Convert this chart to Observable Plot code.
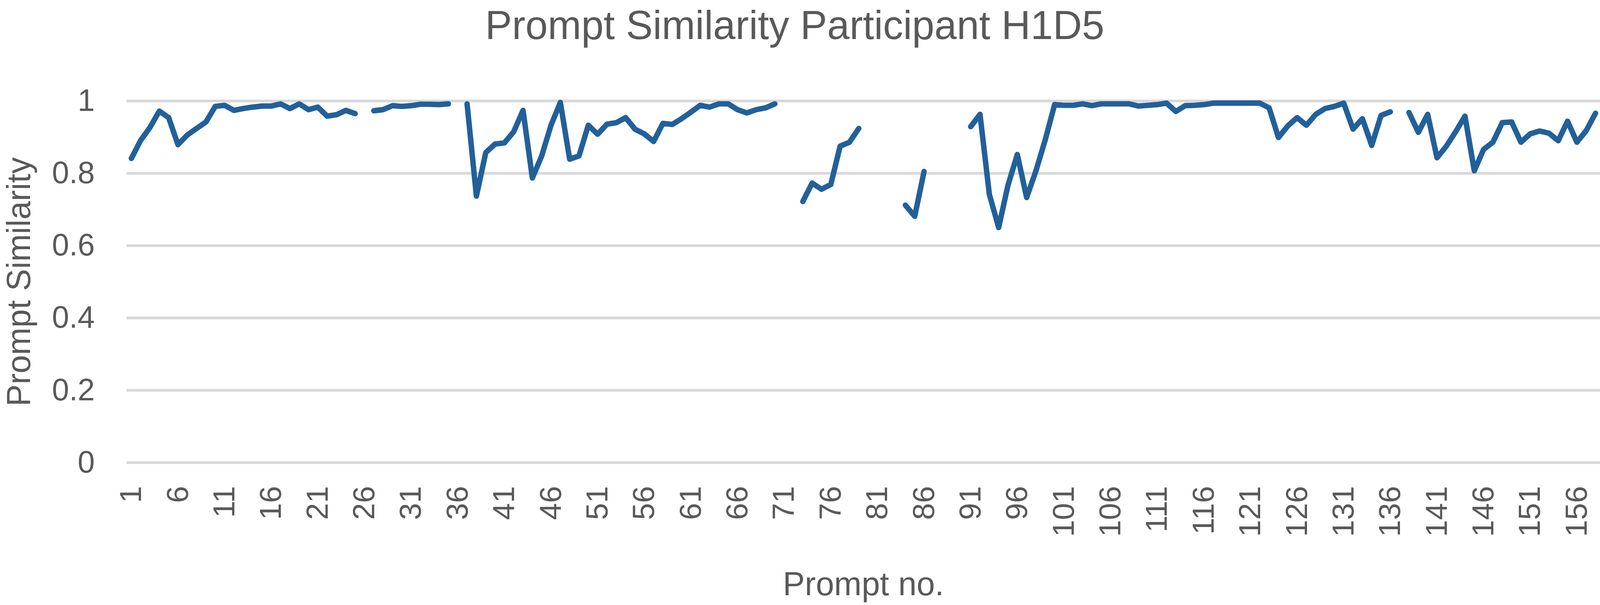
<!DOCTYPE html>
<html>
<head>
<meta charset="utf-8">
<script src="https://cdn.jsdelivr.net/npm/d3@7"></script>
<script src="https://cdn.jsdelivr.net/npm/@observablehq/plot@0.6"></script>
<style>
html, body { margin: 0; padding: 0; background: #fff; overflow: hidden; }
#chart { overflow: hidden; font-family: "Liberation Sans", Arial, sans-serif; background: #fff; }
#title { color: #595959; text-align: center; white-space: nowrap; overflow: visible; }
#chart svg { display: block; }
</style>
</head>
<body>
<div id="chart"><div id="title"></div></div>
<script>
const chartTitle = "Prompt Similarity Participant H1D5";
const xTitle = "Prompt no.";
const yTitle = "Prompt Similarity";

// Prompt numbers (categories) 1..158
const prompts = d3.range(1, 159);

// Prompt similarity per prompt (null = no value, line gap)
const similarity = [
  0.841, 0.891, 0.927, 0.972, 0.954, 0.879, 0.906, 0.924, 0.942, 0.985,
  0.988, 0.974, 0.979, 0.983, 0.986, 0.986, 0.992, 0.979, 0.992, 0.976,
  0.983, 0.958, 0.962, 0.974, 0.965, null, 0.973, 0.976, 0.987, 0.985,
  0.987, 0.991, 0.991, 0.990, 0.992, null, 0.992, 0.737, 0.857, 0.881,
  0.884, 0.915, 0.974, 0.787, 0.848, 0.933, 0.996, 0.839, 0.848, 0.933,
  0.908, 0.936, 0.940, 0.954, 0.922, 0.909, 0.888, 0.938, 0.935, 0.951,
  0.969, 0.988, 0.983, 0.992, 0.992, 0.976, 0.967, 0.976, 0.981, 0.992,
  null, null, 0.722, 0.773, 0.756, 0.769, 0.875, 0.886, 0.924, null,
  null, null, null, 0.712, 0.681, 0.805, null, null, null, null,
  0.929, 0.963, 0.742, 0.650, 0.767, 0.852, 0.733, 0.807, 0.893, 0.990,
  0.988, 0.988, 0.992, 0.987, 0.992, 0.992, 0.992, 0.992, 0.986, 0.988,
  0.990, 0.994, 0.971, 0.987, 0.988, 0.990, 0.994, 0.994, 0.994, 0.994,
  0.994, 0.994, 0.981, 0.899, 0.931, 0.954, 0.933, 0.963, 0.979, 0.985,
  0.994, 0.922, 0.951, 0.877, 0.960, 0.970, null, 0.968, 0.913, 0.963,
  0.843, 0.875, 0.915, 0.958, 0.807, 0.866, 0.886, 0.940, 0.942, 0.886,
  0.909, 0.917, 0.911, 0.890, 0.944, 0.886, 0.918, 0.966
];

// Tick labels
const xTicks = [1, 6, 11, 16, 21, 26, 31, 36, 41, 46, 51, 56, 61, 66, 71, 76, 81, 86, 91, 96,
  101, 106, 111, 116, 121, 126, 131, 136, 141, 146, 151, 156];
const yTicks = [0, 0.2, 0.4, 0.6, 0.8, 1];

const rows = prompts.map((p, i) => ({prompt: p, sim: similarity[i]}));

const textColor = "#595959";
const lineColor = "#22609a";
const gridColor = "#d9d9d9";

// Layout is designed for a 4415x1549 frame; map it proportionally onto the real viewport
const W = document.documentElement.clientWidth || window.innerWidth || 4415;
const H = document.documentElement.clientHeight || window.innerHeight || 1549;
const sx = W / 4415, sy = H / 1549, fs = Math.min(sx, sy);

const holder = document.getElementById("chart");
holder.style.width = W + "px";
holder.style.height = H + "px";

const titleH = 117 * sy;
const titleF = 111 * fs;
const title = document.getElementById("title");
title.textContent = chartTitle;
title.style.height = titleH + "px";
title.style.fontSize = titleF + "px";
title.style.lineHeight = (2 * (101 * sy - 0.905 * titleF) + 1.117 * titleF) + "px";
title.style.paddingRight = (29 * sx) + "px";

const chart = Plot.plot({
  width: W,
  height: H - titleH,
  marginLeft: 349 * sx,
  marginRight: 0,
  marginTop: 141 * sy,
  marginBottom: 365 * sy,
  style: {fontFamily: "Liberation Sans, Arial, sans-serif", color: textColor, background: "white", overflow: "visible", maxWidth: "none"},
  x: {type: "linear", domain: [0.5, 158.5]},
  y: {domain: [0, 1]},
  marks: [
    Plot.ruleY(yTicks, {stroke: gridColor, strokeWidth: 7 * sy}),
    Plot.axisY(yTicks, {tickSize: 0, tickPadding: 88 * sx, fontSize: 85 * fs, fill: textColor, tickFormat: d => String(d), label: null}),
    Plot.axisX(xTicks, {tickSize: 0, tickPadding: 60 * sy, tickRotate: -90, fontSize: 84 * fs, fill: textColor, tickFormat: d => String(d), label: null}),
    Plot.line(rows, {x: "prompt", y: "sim", stroke: lineColor, strokeWidth: 15 * fs, strokeLinecap: "round", strokeLinejoin: "round"}),
    Plot.text([xTitle], {frameAnchor: "bottom", textAnchor: "middle", lineAnchor: "middle", dy: 312 * sy, fontSize: 91 * fs, fill: textColor}),
    Plot.text([yTitle], {frameAnchor: "left", textAnchor: "middle", lineAnchor: "middle", dx: -296 * sx, rotate: -90, fontSize: 91 * fs, fill: textColor})
  ]
});
holder.appendChild(chart);
</script>
</body>
</html>
